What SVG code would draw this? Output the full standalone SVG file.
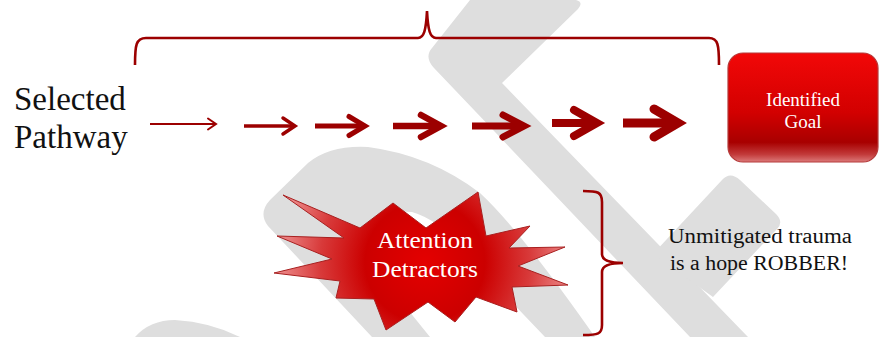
<svg xmlns="http://www.w3.org/2000/svg" width="879" height="337" viewBox="0 0 879 337">
<style>
.wm{fill:#dedede;stroke:none}
.brace{fill:none;stroke:#9c0000;stroke-width:2.6;stroke-linecap:butt}
.shaft{fill:none;stroke:#9c0000;stroke-linecap:butt}
.head{fill:none;stroke:#9c0000;stroke-linecap:round;stroke-linejoin:miter;stroke-miterlimit:6}
</style>
<defs>
<linearGradient id="goalGrad" x1="0" y1="0" x2="0" y2="1">
<stop offset="0" stop-color="#f20808"/>
<stop offset="0.55" stop-color="#d20000"/>
<stop offset="0.82" stop-color="#a80000"/>
<stop offset="0.93" stop-color="#c23a3a"/>
<stop offset="1" stop-color="#dc7a7a"/>
</linearGradient>
<radialGradient id="starGrad" cx="425" cy="262" r="150" gradientUnits="userSpaceOnUse">
<stop offset="0" stop-color="#e40000"/>
<stop offset="0.4" stop-color="#cc0000"/>
<stop offset="0.7" stop-color="#d83a3a"/>
<stop offset="1" stop-color="#ee9090"/>
</radialGradient>
</defs>
<rect width="879" height="337" fill="#ffffff"/>
<g id="watermark">
<path class="wm" d="M470,0 L576,0 Q584,2 578,9 L502,83 L748,337 L690,337 L434,68 Q424,57 432,48 Z"/>
<path class="wm" d="M653,254 L722,180 Q730,171 740,180 L776,214 Q784,222 777,229 L713,297 Z"/>
<path class="wm" fill-rule="evenodd" d="M372,337 L268,226 Q258,213 270,200 L308,163 Q330,145 368,147 Q430,155 480,193 Q520,230 595,337 Z M430,337 L358,248 Q380,208 412,212 Q440,220 462,250 L545,337 Z"/>
<path class="wm" d="M135,337 Q150,320 175,320 Q210,322 240,337 Z"/>
</g>
<g id="connectors">
<path class="brace" d="M135,65 C135,45 136,38 146,38 L418,38 C424,38 426,30 427,11 C428,30 430,38 436,38 L709,38 C718,38 719,45 719,65"/>
<path class="brace" d="M583,191 C598,191 602,192 602,202 L602,254 C602,260 608,263 623,263 C608,263 602,266 602,272 L602,325 C602,334 598,335 583,335"/>
<g id="arrow1"><path class="shaft" stroke-width="2" d="M150,124 H216"/><path class="head" stroke-width="2" d="M208,118.5 L216,124 L208,129.5"/></g>
<g id="arrow2"><path class="shaft" stroke-width="3.5" d="M244,126 H295"/><path class="head" stroke-width="3.5" d="M283,118 L295,126 L283,134"/></g>
<g id="arrow3"><path class="shaft" stroke-width="5" d="M315,126 H365"/><path class="head" stroke-width="5" d="M349,116.5 L365,126 L349,135.5"/></g>
<g id="arrow4"><path class="shaft" stroke-width="6.5" d="M393,126 H441"/><path class="head" stroke-width="6.5" d="M421,115 L441,126 L421,137"/></g>
<g id="arrow5"><path class="shaft" stroke-width="7" d="M472,126 H524"/><path class="head" stroke-width="7" d="M503,115 L524,126 L503,137"/></g>
<g id="arrow6"><path class="shaft" stroke-width="8" d="M552,123 H597"/><path class="head" stroke-width="8" d="M574,110 L597,123 L574,136"/></g>
<g id="arrow7"><path class="shaft" stroke-width="9" d="M623,123 H678"/><path class="head" stroke-width="9" d="M654,109 L678,123 L654,137"/></g>
</g>
<g id="pathway">
<text x="14" y="110" fill="#111111" font-size="33" style="font-family:'Liberation Serif',serif">Selected</text>
<text x="14" y="148" fill="#111111" font-size="33" style="font-family:'Liberation Serif',serif">Pathway</text>
</g>
<g id="goal">
<rect x="728" y="53" width="150" height="109" rx="15" ry="15" fill="url(#goalGrad)" stroke="#b53a3a" stroke-width="1.2"/>
<text x="803" y="106" fill="#ffffff" font-size="19" text-anchor="middle" style="font-family:'Liberation Serif',serif">Identified</text>
<text x="803" y="128" fill="#ffffff" font-size="19" text-anchor="middle" style="font-family:'Liberation Serif',serif">Goal</text>
</g>
<g id="detractors">
<polygon points="283,195 360,228 393,203 426,228 478,192 486,236 530,226 509,248 565,247 518,266 568,285 512,287 517,312 476,297 455,322 428,302 386,330 374,299 336,298 340,281 274,273 332,259 277,236 344,238" fill="url(#starGrad)" stroke="#a82020" stroke-width="1" stroke-linejoin="miter"/>
<text x="425" y="248" fill="#ffffff" font-size="24" text-anchor="middle" textLength="96" lengthAdjust="spacingAndGlyphs" style="font-family:'Liberation Serif',serif">Attention</text>
<text x="425" y="277" fill="#ffffff" font-size="24" text-anchor="middle" textLength="106" lengthAdjust="spacingAndGlyphs" style="font-family:'Liberation Serif',serif">Detractors</text>
</g>
<g id="note">
<text x="760" y="243" fill="#111111" font-size="20.5" text-anchor="middle" textLength="184" lengthAdjust="spacingAndGlyphs" style="font-family:'Liberation Serif',serif">Unmitigated trauma</text>
<text x="759" y="270" fill="#111111" font-size="20.5" text-anchor="middle" textLength="178" lengthAdjust="spacingAndGlyphs" style="font-family:'Liberation Serif',serif">is a hope ROBBER!</text>
</g>
</svg>
